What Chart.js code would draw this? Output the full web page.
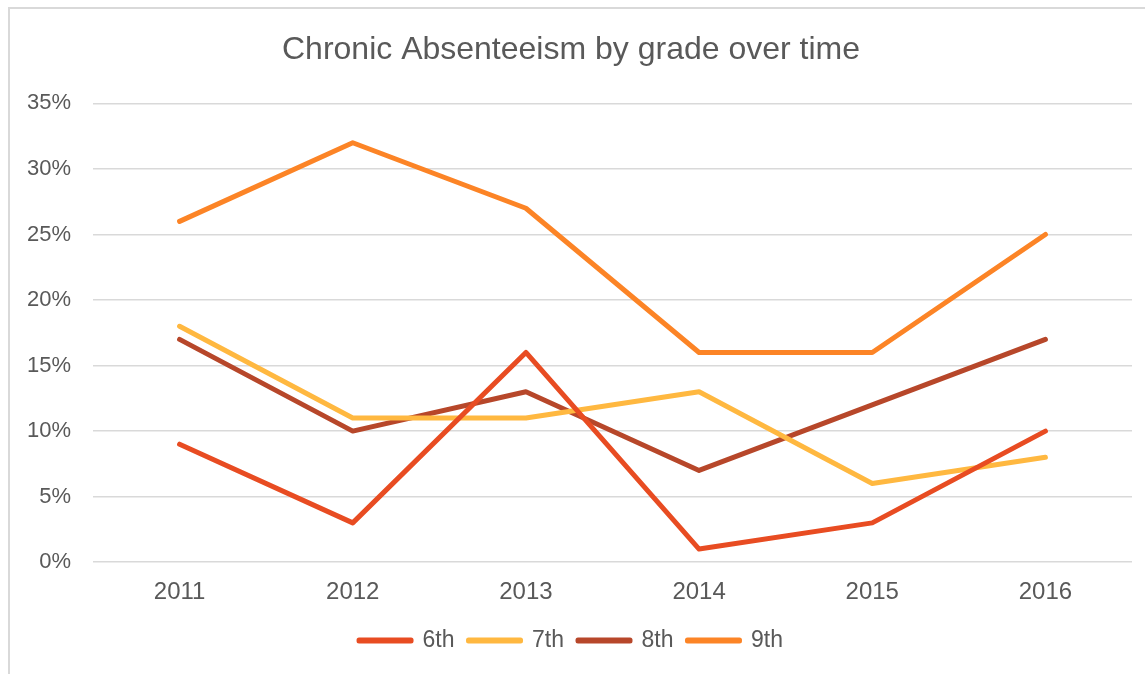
<!DOCTYPE html>
<html>
<head>
<meta charset="utf-8">
<script src="https://cdn.jsdelivr.net/npm/chart.js@4"></script>
<style>
  body { margin: 0; background: #fff; overflow: hidden; }
  #box { position: absolute; left: 8px; top: 7px; width: 1150px; height: 680px; border: 2px solid #d9d9d9; }
</style>
</head>
<body>
<div id="box"><canvas id="chart" width="1150" height="680"></canvas></div>
<script>
// data
const years = ["2011", "2012", "2013", "2014", "2015", "2016"];
const grade6 = [9, 3, 16, 1, 3, 10];
const grade7 = [18, 11, 11, 13, 6, 8];
const grade8 = [17, 10, 13, 7, 12, 17];
const grade9 = [26, 32, 27, 16, 16, 25];
const yTicks = [0, 5, 10, 15, 20, 25, 30, 35];

const textColor = "#595959";
const fontFamily = "'Liberation Sans', Arial, sans-serif";

function line(label, data, color) {
    return {
        label: label,
        data: data,
        borderColor: color,
        backgroundColor: color,
        borderWidth: 5,
        borderCapStyle: "round",
        borderJoinStyle: "round",
        pointRadius: 0,
        tension: 0
    };
}

new Chart(document.getElementById("chart"), {
    type: "line",
    data: {
        labels: years,
        datasets: [
            line("6th", grade6, "#E84C22"),
            line("7th", grade7, "#FFB840"),
            line("8th", grade8, "#B7472A"),
            line("9th", grade9, "#FC8426")
        ]
    },
    options: {
        responsive: false,
        animation: false,
        layout: { padding: { left: 0, right: 28, top: 10, bottom: 27 } },
        plugins: {
            title: {
                display: true,
                text: "Chronic Absenteeism by grade over time",
                color: textColor,
                font: { family: fontFamily, size: 32, weight: "normal" },
                padding: { top: 12, bottom: 34 }
            },
            legend: {
                position: "bottom",
                labels: {
                    color: textColor,
                    font: { family: fontFamily, size: 23 },
                    boxWidth: 52,
                    boxHeight: 1,
                    padding: 14
                }
            },
            tooltip: { enabled: false }
        },
        scales: {
            x: {
                offset: true,
                grid: { display: false },
                border: { display: false },
                ticks: { color: textColor, font: { family: fontFamily, size: 24 }, padding: 8 }
            },
            y: {
                min: 0,
                max: 35,
                afterBuildTicks: (scale) => { scale.ticks = yTicks.map(v => ({ value: v })); },
                afterFit: (scale) => { scale.width = 83; },
                grid: { color: "#d9d9d9", lineWidth: 1.5, drawTicks: false },
                border: { display: false },
                ticks: {
                    color: textColor,
                    font: { family: fontFamily, size: 22 },
                    padding: 22,
                    callback: (v) => v + "%"
                }
            }
        }
    }
});
</script>
</body>
</html>
